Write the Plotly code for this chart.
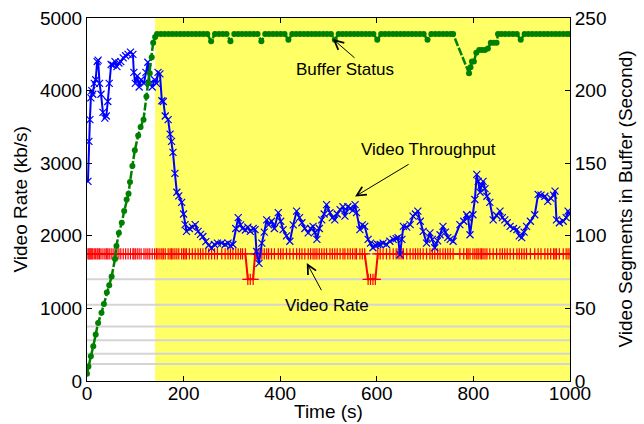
import plotly.graph_objects as go

# ---------------- data ----------------
thr_t = [2, 4, 6, 8, 10, 12, 15, 18, 21, 23,
         26, 29, 33, 37, 40, 43, 46, 50, 54, 58,
         62, 66, 70, 75, 80, 85, 90, 95, 97, 100,
         104, 108, 112, 118, 122, 126, 130, 135, 140, 144,
         147, 151, 155, 158, 162, 168, 172, 175, 178, 182,
         186, 190, 196, 200, 203, 206, 212, 218, 224, 230,
         235, 240, 246, 252, 258, 264, 270, 279, 286, 292,
         297, 302, 308, 313, 318, 322, 328, 333, 338, 344,
         348, 351, 356, 362, 367, 372, 376, 382, 388, 396,
         401, 406, 413, 420, 427, 434, 440, 445, 451, 458,
         463, 468, 472, 476, 481, 486, 491, 496, 503, 508,
         513, 518, 524, 530, 534, 540, 545, 550, 555, 558,
         565, 570, 575, 582, 587, 592, 597, 602, 607, 613,
         620, 627, 634, 640, 644, 648, 652, 655, 662, 669,
         675, 680, 685, 690, 696, 703, 710, 715, 720, 726,
         731, 737, 742, 747, 752, 758, 772, 780, 786, 789,
         793, 799, 803, 807, 810, 814, 817, 820, 824, 828,
         834, 841, 848, 855, 860, 865, 870, 876, 883, 890,
         895, 900, 905, 910, 918, 927, 934, 940, 948, 954,
         960, 966, 969, 972, 978, 986, 992, 996, 1000]

thr_v = [2750, 3300, 3600, 3900, 4000, 3950, 4100, 4150, 4400, 4420,
         4100, 3950, 3700, 3620, 3650, 3850, 4100, 4360, 4350, 4400,
         4330, 4380, 4400, 4450, 4480, 4500, 4530, 4500, 4250, 4100,
         4200, 4050, 4150, 4100, 4250, 4390, 4100, 4050, 4150, 4100,
         4250, 4230, 3860, 3850, 3650, 3600, 3400, 3300, 3150, 2860,
         2600, 2550, 2460, 2300, 2155, 2060, 2100, 2120, 2155, 2060,
         2020, 1990, 1920, 1870, 1830, 1880, 1900, 1900, 1880, 1900,
         1860, 1880, 2100, 2250, 2150, 2100, 2080, 2120, 2060, 2100,
         2085, 1785, 1620, 1900, 2050, 2220, 2150, 2200, 2100, 2320,
         2200, 2085, 2000, 1925, 2150, 2340, 2250, 2180, 2100, 2040,
         2100, 2130, 2050, 1950, 2100, 2220, 2300, 2430, 2320, 2250,
         2220, 2300, 2360, 2400, 2270, 2400, 2380, 2350, 2430, 2320,
         2085, 2150, 2130, 1950, 1900, 1835, 1870, 1880, 1880, 1900,
         1880, 1925, 1950, 1960, 1975, 1740, 1950, 2130, 2120, 2155,
         2270, 2300, 2340, 2200, 2060, 1900, 2040, 1950, 1835, 1930,
         2015, 2130, 2050, 1975, 1950, 1925, 2155, 2200, 2290, 2250,
         2015, 2290, 2500, 2845, 2750, 2600, 2700, 2750, 2650, 2545,
         2460, 2220, 2280, 2340, 2250, 2220, 2180, 2130, 2100, 2085,
         2000, 1975, 2050, 2130, 2200, 2290, 2570, 2560, 2545, 2475,
         2520, 2560, 2615, 2220, 2180, 2200, 2250, 2340, 2300]

rate_v = [1750, 1750, 1750, 1750, 1750, 1750, 1750, 1750, 1750, 1750,
          1750, 1750, 1750, 1750, 1750, 1750, 1750, 1750, 1750, 1750,
          1750, 1750, 1750, 1750, 1750, 1750, 1750, 1750, 1750, 1750,
          1750, 1750, 1750, 1750, 1750, 1750, 1750, 1750, 1750, 1750,
          1750, 1750, 1750, 1750, 1750, 1750, 1750, 1750, 1750, 1750,
          1750, 1750, 1750, 1750, 1750, 1750, 1750, 1750, 1750, 1750,
          1750, 1750, 1750, 1750, 1750, 1750, 1750, 1750, 1750, 1750,
          1750, 1750, 1750, 1750, 1750, 1750, 1750, 1400, 1400, 1400,
          1750, 1750, 1750, 1750, 1750, 1750, 1750, 1750, 1750, 1750,
          1750, 1750, 1750, 1750, 1750, 1750, 1750, 1750, 1750, 1750,
          1750, 1750, 1750, 1750, 1750, 1750, 1750, 1750, 1750, 1750,
          1750, 1750, 1750, 1750, 1750, 1750, 1750, 1750, 1750, 1750,
          1750, 1750, 1750, 1400, 1400, 1400, 1400, 1750, 1750, 1750,
          1750, 1750, 1750, 1750, 1750, 1750, 1750, 1750, 1750, 1750,
          1750, 1750, 1750, 1750, 1750, 1750, 1750, 1750, 1750, 1750,
          1750, 1750, 1750, 1750, 1750, 1750, 1750, 1750, 1750, 1750,
          1750, 1750, 1750, 1750, 1750, 1750, 1750, 1750, 1750, 1750,
          1750, 1750, 1750, 1750, 1750, 1750, 1750, 1750, 1750, 1750,
          1750, 1750, 1750, 1750, 1750, 1750, 1750, 1750, 1750, 1750,
          1750, 1750, 1750, 1750, 1750, 1750, 1750, 1750, 1750]

buf_t = [0, 3, 8, 13, 18, 23, 30, 35, 41, 46,
         51, 58, 61, 66, 72, 77, 82, 86, 89, 94,
         99, 106, 111, 117, 123, 127, 130, 134, 137, 141,
         145, 153, 161, 169, 177, 185, 193, 201, 209, 217,
         225, 233, 241, 249, 257, 265, 273, 281, 289, 297,
         305, 313, 321, 329, 337, 345, 353, 361, 369, 377,
         385, 393, 401, 409, 417, 425, 433, 441, 449, 457,
         465, 473, 481, 489, 497, 505, 513, 521, 529, 537,
         545, 553, 561, 569, 577, 585, 593, 601, 609, 617,
         625, 633, 641, 649, 657, 665, 673, 681, 689, 697,
         705, 713, 721, 729, 737, 745, 753, 758, 791, 794,
         797, 801, 806, 812, 818, 824, 830, 836, 842, 848,
         851, 858, 866, 874, 882, 890, 898, 906, 914, 922,
         930, 938, 946, 954, 962, 970, 978, 986, 994, 1000]

buf_v = [5, 10, 17, 24, 32, 40, 47, 53, 61, 66,
         72, 84, 93, 102, 109, 117, 125, 129, 137, 148,
         159, 169, 175, 180, 196, 205, 212, 223, 233, 237,
         239, 239, 239, 239, 239, 239, 239, 239, 239, 239,
         239, 239, 239, 239, 234, 239, 239, 239, 239, 234,
         239, 239, 239, 239, 239, 239, 239, 234, 239, 239,
         239, 239, 239, 239, 235, 239, 239, 239, 239, 239,
         239, 239, 239, 239, 239, 239, 235, 239, 239, 239,
         239, 239, 239, 239, 239, 239, 239, 235, 239, 239,
         239, 239, 239, 239, 239, 239, 239, 239, 239, 239,
         235, 239, 239, 239, 239, 239, 239, 239, 212, 216,
         220, 220, 226, 228, 228, 228, 229, 233, 233, 233,
         239, 239, 239, 239, 239, 239, 235, 239, 239, 239,
         239, 239, 239, 239, 239, 239, 239, 239, 239, 239]

bitrate_levels = [235, 375, 560, 750, 1050, 1400, 1750]
startup_end = 141

x_title = "Time (s)"
y_title = "Video Rate (kb/s)"
y2_title = "Video Segments in Buffer (Second)"

# ---------------- figure ----------------
FONT = "Liberation Sans, Arial, Helvetica, sans-serif"
fig = go.Figure()

fig.add_trace(go.Scatter(
    x=thr_t, y=rate_v, mode="lines+markers",
    line=dict(color="#ff0000", width=2),
    marker=dict(symbol="cross-thin", size=8, line=dict(width=1.2, color="#ff0000")),
    hoverinfo="skip"))

fig.add_trace(go.Scatter(
    x=thr_t, y=thr_v, mode="lines+markers",
    line=dict(color="#0000ff", width=2),
    marker=dict(symbol="x-thin", size=7, line=dict(width=1.2, color="#0000ff")),
    hoverinfo="skip"))

fig.add_trace(go.Scatter(
    x=buf_t, y=buf_v, mode="lines+markers", yaxis="y2",
    line=dict(color="#008000", width=2.5, dash="8px,2px"),
    marker=dict(symbol="circle", size=6, color="#008000"),
    hoverinfo="skip"))

shapes = [dict(type="rect", xref="x", yref="paper", x0=startup_end, x1=1000,
               y0=0, y1=1, fillcolor="#ffff66", line=dict(width=0), layer="below")]
for lv in bitrate_levels:
    shapes.append(dict(type="line", xref="x", yref="y", x0=0, x1=1000, y0=lv, y1=lv,
                       line=dict(color="#d4d4d4", width=2), layer="below"))

title_font = dict(size=19, family=FONT, color="black")
arrow_style = dict(xref="x", yref="y", axref="x", ayref="y", text="", showarrow=True,
                   arrowhead=5, arrowsize=1.8, arrowwidth=1, arrowcolor="black")
label_font = dict(size=17, family=FONT, color="black")
annotations = [
    dict(x=509, y=4710, ax=557, ay=4434, **arrow_style),
    dict(x=555, y=2541, ax=669, ay=2997, **arrow_style),
    dict(x=455, y=1626, ax=487, ay=1230, **arrow_style),
    dict(x=534, y=4296, xref="x", yref="y", text="Buffer Status", showarrow=False, font=label_font),
    dict(x=708, y=3190, xref="x", yref="y", text="Video Throughput", showarrow=False, font=label_font),
    dict(x=497, y=1040, xref="x", yref="y", text="Video Rate", showarrow=False, font=label_font),
    # axis titles, offset in pixels from the plot area edges
    dict(x=0.5, y=0, xref="paper", yref="paper", yshift=-30, text=x_title, showarrow=False,
         font=title_font, xanchor="center", yanchor="middle"),
    dict(x=0, y=0.5, xref="paper", yref="paper", xshift=-67, text=y_title, showarrow=False,
         font=title_font, textangle=-90, xanchor="center", yanchor="middle"),
    dict(x=1, y=0.5, xref="paper", yref="paper", xshift=55, text=y2_title, showarrow=False,
         font=title_font, textangle=-90, xanchor="center", yanchor="middle"),
]

axis_common = dict(showgrid=False, zeroline=False, showline=True, linecolor="black",
                   linewidth=1, ticks="inside", ticklen=5, tickcolor="black", automargin=False,
                   ticklabeloverflow="allow",
                   tickfont=dict(size=19, family=FONT, color="black"))

fig.update_layout(
    width=644, height=424,
    margin=dict(l=87, r=74, t=18, b=43, autoexpand=False),
    paper_bgcolor="white", plot_bgcolor="white",
    showlegend=False,
    shapes=shapes, annotations=annotations,
    xaxis=dict(range=[0, 1000], tickvals=[0, 200, 400, 600, 800, 1000], mirror="ticks",
               ticklabelstandoff=-5, **axis_common),
    yaxis=dict(range=[0, 5000], tickvals=[0, 1000, 2000, 3000, 4000, 5000], **axis_common),
    yaxis2=dict(range=[0, 250], tickvals=[0, 50, 100, 150, 200, 250], overlaying="y", side="right",
                **axis_common),
)

# remove the default 8px page margin so the figure fills the 644x424 window exactly
fig.write_html("out.html", config={"displayModeBar": False},
               post_script="document.body.style.margin='0px';")
